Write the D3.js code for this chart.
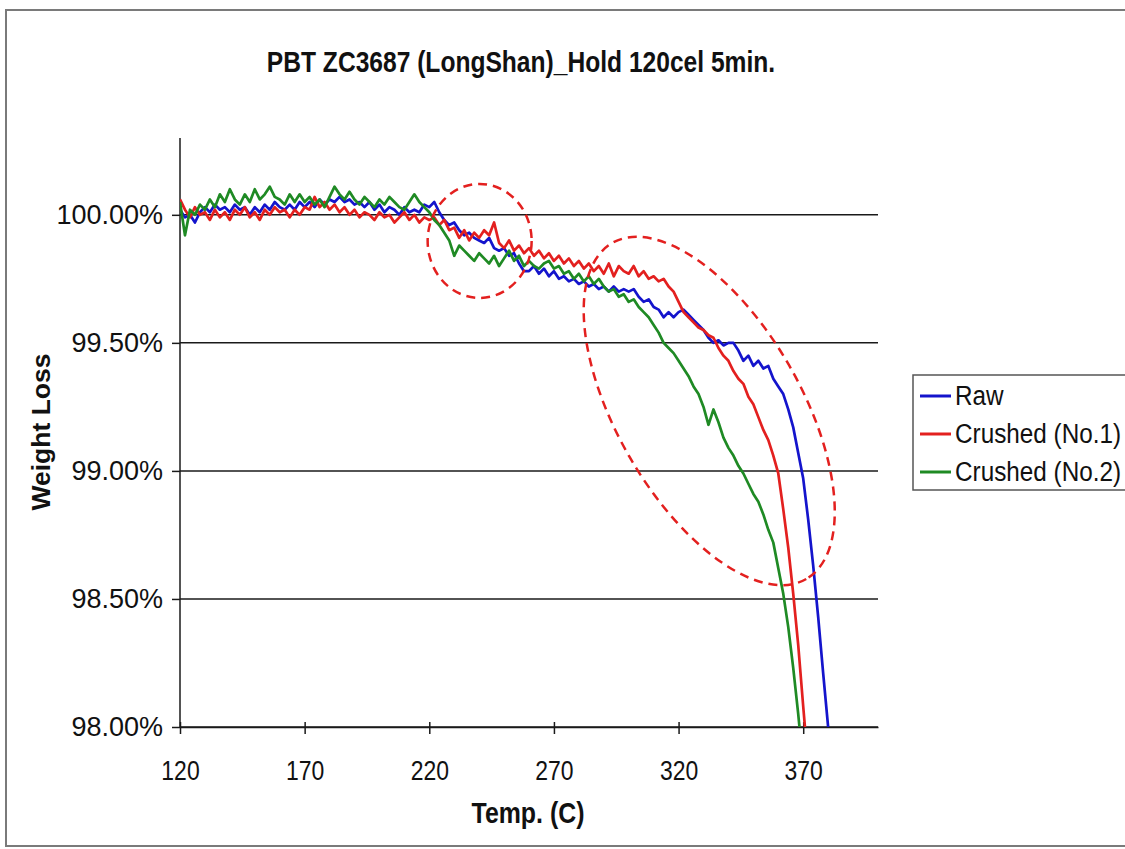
<!DOCTYPE html>
<html>
<head>
<meta charset="utf-8">
<script src="https://d3js.org/d3.v7.min.js"></script>
<style>
  body { margin: 0; background: #fff; }
  text { font-family: "Liberation Sans", Arial, sans-serif; fill: #111; }
</style>
</head>
<body>
<div id="chart"></div>
<script>
// temperature grid (C)
const temps = [
  120,122,124,126,128,130,132,134,136,138,
  140,142,144,146,148,150,152,154,156,158,
  160,162,164,166,168,170,172,174,176,178,
  180,182,184,186,188,190,192,194,196,198,
  200,202,204,206,208,210,212,214,216,218,
  220,222,224,226,228,230,232,234,236,238,
  240,242,244,246,248,250,252,254,256,258,
  260,262,264,266,268,270,272,274,276,278,
  280,282,284,286,288,290,292,294,296,298,
  300,302,304,306,308,310,312,314,316,318,
  320,322,324,326,328,330,332,334,336,338,
  340,342,344,346,348,350,352,354,356,358,
  360,362,364,366,368,370,372,374,376,378,
  380
]

// weight (%)
const raw = [
  100.02,99.99,100.00,99.97,100.01,100.03,100.01,100.04,100.02,100.03,
  100.01,100.04,100.02,100.03,100.00,100.03,100.01,100.04,100.02,100.05,
  100.03,100.02,100.04,100.02,100.05,100.03,100.05,100.03,100.06,100.04,
  100.06,100.05,100.07,100.05,100.06,100.04,100.05,100.03,100.05,100.02,
  100.04,100.01,100.03,100.02,100.00,100.03,100.01,100.02,100.01,100.04,
  100.03,100.05,100.01,99.98,99.96,99.97,99.94,99.92,99.93,99.91,
  99.90,99.89,99.91,99.87,99.86,99.87,99.84,99.85,99.81,99.78,
  99.78,99.80,99.77,99.79,99.76,99.78,99.75,99.76,99.74,99.75,
  99.73,99.74,99.72,99.73,99.71,99.72,99.70,99.72,99.70,99.71,
  99.70,99.71,99.68,99.66,99.67,99.64,99.63,99.60,99.62,99.60,
  99.62,99.63,99.61,99.59,99.57,99.55,99.52,99.50,99.51,99.49,
  99.50,99.50,99.47,99.43,99.45,99.41,99.43,99.40,99.41,99.36,
  99.33,99.30,99.24,99.17,99.07,98.97,98.81,98.63,98.43,98.21,
  98.00
]
const crushed1 = [
  100.06,100.02,99.99,100.03,100.00,100.01,99.98,100.02,99.99,100.01,
  99.98,100.02,100.00,100.03,99.99,100.01,99.98,100.02,100.00,100.03,
  100.01,100.02,99.99,100.02,100.00,100.03,100.02,100.07,100.03,100.05,
  100.02,100.04,100.01,100.03,100.00,100.02,99.99,100.01,100.00,99.98,
  100.01,99.99,100.00,99.97,99.99,100.01,99.98,100.00,99.97,99.99,
  99.98,99.99,99.96,99.98,99.94,99.95,99.91,99.94,99.90,99.93,
  99.91,99.94,99.92,99.97,99.89,99.87,99.90,99.86,99.88,99.85,
  99.87,99.84,99.86,99.83,99.85,99.82,99.84,99.81,99.83,99.80,
  99.82,99.79,99.81,99.78,99.80,99.77,99.81,99.76,99.80,99.78,
  99.77,99.80,99.76,99.78,99.75,99.76,99.74,99.75,99.72,99.70,
  99.66,99.62,99.60,99.58,99.56,99.55,99.53,99.52,99.48,99.45,
  99.43,99.39,99.36,99.34,99.29,99.26,99.21,99.16,99.12,99.06,
  98.99,98.85,98.70,98.52,98.32,98.08,97.85
]
const crushed2 = [
  100.05,99.92,100.02,100.00,100.04,100.02,100.06,100.03,100.08,100.05,
  100.10,100.06,100.04,100.08,100.05,100.10,100.06,100.08,100.11,100.07,
  100.06,100.04,100.08,100.05,100.08,100.05,100.07,100.04,100.06,100.03,
  100.07,100.11,100.08,100.06,100.09,100.06,100.04,100.07,100.05,100.03,
  100.06,100.04,100.07,100.05,100.03,100.02,100.05,100.08,100.05,100.03,
  100.01,99.98,99.96,99.93,99.90,99.84,99.88,99.86,99.84,99.82,
  99.85,99.83,99.81,99.84,99.80,99.83,99.86,99.82,99.84,99.80,
  99.82,99.80,99.79,99.81,99.82,99.79,99.80,99.77,99.78,99.75,
  99.77,99.74,99.76,99.73,99.75,99.72,99.70,99.71,99.68,99.69,
  99.66,99.67,99.64,99.62,99.60,99.57,99.54,99.50,99.48,99.46,
  99.43,99.40,99.37,99.33,99.30,99.25,99.18,99.24,99.19,99.13,
  99.09,99.06,99.02,98.99,98.95,98.91,98.88,98.83,98.77,98.72,
  98.62,98.52,98.39,98.23,98.05,97.85
]

const seriesNames = ["Raw", "Crushed (No.1)", "Crushed (No.2)"]
const seriesValues = [raw, crushed1, crushed2]
const seriesColors = ["#1414cc", "#e3201f", "#1f8a24"]

const xTicks = [120, 170, 220, 270, 320, 370]
const yTicks = [98, 98.5, 99, 99.5, 100]

// dashed ellipses: centre in data units, radii in px, rotation in degrees
const noteTemp = [240.2, 332.3]
const noteWeight = [99.898, 99.234]
const noteRx = [52, 194]
const noteRy = [57, 92]
const noteRot = [0, 60]

const width = 1125
const height = 849
const plotLeft = 180, plotRight = 878, plotTop = 138, plotBottom = 727

const svg = d3.select("#chart").append("svg")
  .attr("width", width).attr("height", height)

svg.append("rect").attr("width", width).attr("height", height).attr("fill", "#fff")

// outer chart frame (runs off the right edge)
svg.append("rect")
  .attr("x", 6).attr("y", 10)
  .attr("width", 1140).attr("height", 836)
  .attr("fill", "none").attr("stroke", "#7a7a7a").attr("stroke-width", 2)

const xScale = d3.scaleLinear().domain([120, 400]).range([plotLeft, plotRight])
const yScale = d3.scaleLinear().domain([98, 100.3]).range([plotBottom, plotTop])

// gridlines
svg.append("g")
  .selectAll("line")
  .data(yTicks)
  .join("line")
  .attr("x1", plotLeft).attr("x2", plotRight)
  .attr("y1", d => yScale(d)).attr("y2", d => yScale(d))
  .attr("stroke", "#1a1a1a").attr("stroke-width", 1.5)

// y axis
const yAxis = d3.axisLeft(yScale)
  .tickValues(yTicks)
  .tickSize(8)
  .tickPadding(9)
  .tickFormat(d => d.toFixed(2) + "%")
svg.append("g")
  .attr("transform", "translate(" + plotLeft + ",0)")
  .call(yAxis)
  .call(g => g.select(".domain").attr("d", "M0," + plotTop + "V" + plotBottom))
  .call(g => g.selectAll("line, path").attr("stroke", "#1a1a1a").attr("stroke-width", 1.5))
  .call(g => g.selectAll("text").attr("font-size", 27).attr("font-family", null).attr("fill", "#111"))

// x axis
const xAxis = d3.axisBottom(xScale)
  .tickValues(xTicks)
  .tickSize(7)
  .tickPadding(26)
  .tickSizeOuter(0)
svg.append("g")
  .attr("transform", "translate(0," + plotBottom + ")")
  .call(xAxis)
  .call(g => g.selectAll(".tick line").attr("y1", -5))
  .call(g => g.selectAll("line, path").attr("stroke", "#1a1a1a").attr("stroke-width", 1.5))
  .call(g => g.selectAll("text")
    .attr("font-size", 28).attr("font-family", null).attr("fill", "#111")
    .attr("transform", "scale(0.82,1)"))

// lines
svg.append("clipPath").attr("id", "plot")
  .append("rect").attr("x", plotLeft).attr("y", plotTop)
  .attr("width", plotRight - plotLeft).attr("height", plotBottom - plotTop)

const line = d3.line()
  .x((d, i) => xScale(temps[i]))
  .y(d => yScale(d))

svg.append("g")
  .attr("clip-path", "url(#plot)")
  .selectAll("path")
  .data(seriesValues)
  .join("path")
  .attr("d", d => line(d))
  .attr("fill", "none")
  .attr("stroke", (d, i) => seriesColors[i])
  .attr("stroke-width", 2.7)
  .attr("stroke-linejoin", "round")

// dashed annotation ellipses
svg.append("g")
  .selectAll("ellipse")
  .data(noteTemp)
  .join("ellipse")
  .attr("transform", (d, i) => "translate(" + xScale(d) + "," + yScale(noteWeight[i]) + ") rotate(" + noteRot[i] + ")")
  .attr("rx", (d, i) => noteRx[i])
  .attr("ry", (d, i) => noteRy[i])
  .attr("fill", "none")
  .attr("stroke", "#e3201f")
  .attr("stroke-width", 2.5)
  .attr("stroke-dasharray", "9,6")

// title + axis titles
svg.append("text")
  .attr("transform", "translate(521,72) scale(0.82,1)")
  .attr("text-anchor", "middle")
  .attr("font-size", 30).attr("font-weight", "bold")
  .text("PBT ZC3687 (LongShan)_Hold 120cel 5min.")

svg.append("text")
  .attr("transform", "translate(528,823) scale(0.83,1)")
  .attr("text-anchor", "middle")
  .attr("font-size", 30).attr("font-weight", "bold")
  .text("Temp. (C)")

svg.append("text")
  .attr("transform", "translate(50,432) rotate(-90)")
  .attr("text-anchor", "middle")
  .attr("font-size", 26.5).attr("font-weight", "bold")
  .text("Weight Loss")

// legend
const legend = svg.append("g").attr("transform", "translate(913,375)")
legend.append("rect")
  .attr("width", 240).attr("height", 115)
  .attr("fill", "#fff").attr("stroke", "#555").attr("stroke-width", 1.5)
const item = legend.selectAll("g.item")
  .data(seriesNames)
  .join("g")
  .attr("class", "item")
  .attr("transform", (d, i) => "translate(0," + (21 + i * 38) + ")")
item.append("line")
  .attr("x1", 7).attr("x2", 38)
  .attr("stroke", (d, i) => seriesColors[i]).attr("stroke-width", 3)
item.append("text")
  .attr("transform", "translate(42,9) scale(0.9,1)")
  .attr("font-size", 27)
  .text(d => d)
</script>
</body>
</html>
